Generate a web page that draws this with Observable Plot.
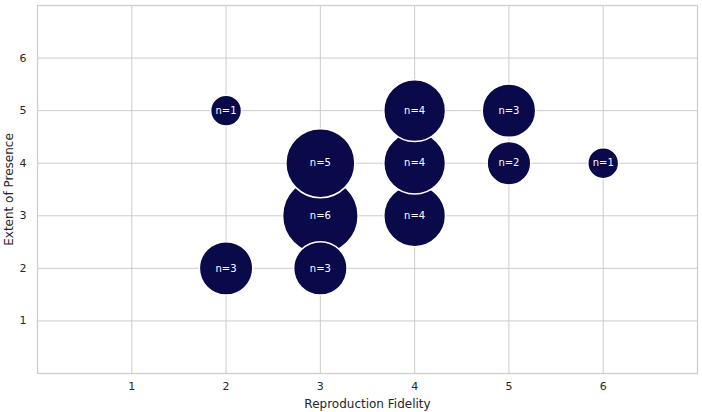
<!DOCTYPE html>
<html>
<head>
<meta charset="utf-8">
<script src="https://cdn.jsdelivr.net/npm/d3@7"></script>
<script src="https://cdn.jsdelivr.net/npm/@observablehq/plot@0.6"></script>
<style>
  html, body { margin: 0; padding: 0; background: #fff; }
  #chart { width: 702px; height: 412px; }
</style>
</head>
<body>
<div id="chart"></div>
<script>
const fidelity = [2, 2, 3, 3, 3, 4, 4, 4, 5, 5, 6];
const presence = [2, 5, 2, 3, 4, 3, 4, 5, 4, 5, 4];
const counts   = [3, 1, 3, 6, 5, 4, 4, 4, 2, 3, 1];
const ticks = [1, 2, 3, 4, 5, 6];

const data = fidelity.map((x, i) => ({x, y: presence[i], n: counts[i], label: "n=" + counts[i]}));

const font = "DejaVu Sans, sans-serif";
const chart = Plot.plot({
  width: 702,
  height: 412,
  marginLeft: 37,
  marginRight: 5,
  marginTop: 5,
  marginBottom: 39,
  style: {fontFamily: font, fontSize: "11px", color: "#262626", background: "#fff"},
  x: {domain: [0, 7]},
  y: {domain: [0, 7]},
  r: {domain: [0, 6], range: [0, 37.8]},
  marks: [
    Plot.gridX(ticks, {stroke: "#cccccc", strokeOpacity: 1, strokeWidth: 1}),
    Plot.gridY(ticks, {stroke: "#cccccc", strokeOpacity: 1, strokeWidth: 1}),
    Plot.frame({stroke: "#cccccc", strokeWidth: 1.2}),
    Plot.axisX(ticks, {tickSize: 0, tickPadding: 9, tickFormat: d3.format("d"), fontSize: 11,
      label: "Reproduction Fidelity", labelAnchor: "center", labelArrow: "none", labelOffset: 34}),
    Plot.axisY(ticks, {tickSize: 0, tickPadding: 11, tickFormat: d3.format("d"), fontSize: 11,
      label: "Extent of Presence", labelAnchor: "center", labelArrow: "none", labelOffset: 33}),
    Plot.dot(data, {x: "x", y: "y", r: "n", fill: "#0a0a4b", stroke: "white", strokeWidth: 1.5}),
    Plot.text(data, {x: "x", y: "y", text: "label", fill: "white", fontSize: 10})
  ]
});
chart.querySelectorAll("g[aria-label='x-axis label'] text, g[aria-label='y-axis label'] text").forEach(t => t.setAttribute("font-size", "12"));
document.getElementById("chart").appendChild(chart);
</script>
</body>
</html>
